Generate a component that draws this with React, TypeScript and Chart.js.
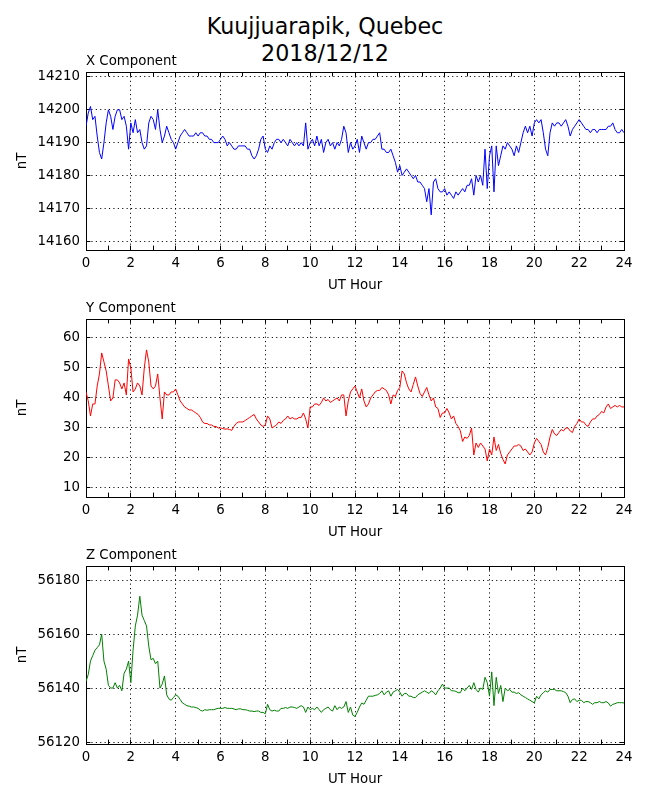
import { useEffect, useRef } from "react"
import { Chart, registerables } from "chart.js"

Chart.register(...registerables)

const FONT = "'DejaVu Sans', sans-serif"
Chart.defaults.font.family = FONT
Chart.defaults.font.size = 13.33
Chart.defaults.color = "#000"

// one sample every 6 minutes, 00:00 to 24:00 UT
const HOURS = Array.from({ length: 241 }, (_, i) => i / 10)

const X_NT = [
  14195, 14199, 14201, 14197, 14198, 14192, 14187, 14185, 14190, 14196,
  14200, 14198, 14194, 14198, 14200, 14200, 14197, 14198, 14195, 14188,
  14196, 14193, 14197, 14193, 14194, 14190, 14188, 14189, 14196, 14198,
  14197, 14194, 14200, 14194, 14190, 14192, 14195, 14193, 14191, 14190,
  14188, 14190, 14192, 14193, 14194, 14193, 14192, 14192, 14192, 14193,
  14192, 14193, 14193, 14192, 14192, 14191, 14191, 14190, 14190, 14190,
  14191, 14192, 14191, 14189, 14190, 14189, 14188, 14188, 14189, 14189,
  14189, 14189, 14188, 14188, 14186, 14185, 14186, 14188, 14191, 14192,
  14188, 14187, 14189, 14188, 14190, 14191, 14191, 14190, 14191, 14190,
  14189, 14191, 14190, 14189, 14190, 14189, 14190, 14189, 14196, 14188,
  14190, 14191, 14189, 14192, 14189, 14191, 14187, 14190, 14191, 14189,
  14190, 14188, 14190, 14189, 14191, 14195, 14193, 14187, 14190, 14188,
  14189, 14191, 14187, 14192, 14190, 14188, 14190, 14190, 14191, 14191,
  14192, 14193, 14188, 14188, 14187, 14187, 14188, 14186, 14184, 14181,
  14183, 14180, 14181, 14182, 14181, 14180, 14179, 14180, 14178, 14178,
  14177, 14176, 14172, 14176, 14168, 14178, 14179, 14176, 14175, 14175,
  14176, 14174, 14175, 14174, 14173, 14175, 14174, 14175, 14176, 14175,
  14177, 14177, 14179, 14174, 14180, 14178, 14180, 14177, 14188, 14176,
  14186, 14189, 14175, 14189, 14183, 14186, 14189, 14188, 14190, 14189,
  14188, 14186, 14189, 14187, 14190, 14193, 14195, 14193, 14195, 14192,
  14196, 14197, 14196, 14197, 14193, 14188, 14186, 14193, 14196, 14195,
  14196, 14196, 14195, 14196, 14197, 14195, 14192, 14194, 14195, 14196,
  14197, 14196, 14195, 14194, 14194, 14193, 14194, 14194, 14193, 14194,
  14194, 14194, 14194, 14195, 14195, 14196, 14194, 14193, 14193, 14194,
  14193,
]

const Y_NT = [
  42, 39, 34, 38, 38, 44, 48, 55, 52, 49,
  44, 39, 40, 46, 46, 45, 43, 45, 41, 53,
  50, 42, 43, 45, 44, 41, 50, 56, 52, 44,
  43, 44, 48, 40, 33, 42, 41, 41, 42, 42,
  43, 41, 39, 38, 37, 36.5, 36, 36, 35.5, 35,
  34.5, 33.5, 32, 31.5, 31.5, 31, 31, 30.5, 30.5, 30,
  30, 29.8, 29.6, 29.7, 29.5, 29.2, 30.5, 31.5, 32, 32,
  32, 32.5, 33, 33.5, 34, 34.5, 33, 32, 31, 30.5,
  31, 34, 33, 30, 30.5, 31, 32, 31.5, 32.5, 33,
  34, 33, 33.5, 33, 33, 33.5, 33.5, 35, 33, 30,
  37, 37, 38, 38, 37.5, 38.5, 40, 39, 39.5, 38.5,
  39, 39.5, 40, 39, 41, 41, 34, 39, 42, 43,
  44, 42, 40, 43, 39, 37, 38, 40, 41, 42,
  42.5, 42.5, 43.5, 43, 42.5, 41, 38, 41, 40.5, 42.5,
  43.5, 49, 48, 45, 43, 42, 44.5, 47, 44, 41.5,
  40.5, 42, 43.5, 41, 39, 40, 37, 36.5, 33.5, 35,
  35, 36.5, 35, 33, 34, 31.5, 30.5, 29, 25.5, 27,
  26.5, 27.5, 30, 21, 25, 23.5, 25, 24, 23, 19,
  23, 21, 27, 22.5, 24.5, 21.5, 19.5, 18, 21, 22,
  23, 24, 24, 24.5, 24, 22.5, 23, 22, 21, 22,
  25, 26.5, 25.5, 24.5, 22, 21, 23.5, 27, 29.5, 28,
  27.5, 28.5, 29.5, 29, 30, 30, 29, 28.5, 30.5, 31.5,
  33, 32, 32, 31, 30.5, 32, 33, 33, 34, 34.5,
  35.5, 35, 37, 38, 36.5, 37, 37.5, 37, 37.5, 37,
  37,
]

const Z_NT = [
  56142.5, 56145, 56150, 56152, 56154, 56155, 56156, 56160, 56150, 56147,
  56141, 56140, 56140, 56142, 56140, 56141, 56139, 56145.5, 56147, 56150,
  56142, 56154, 56163, 56167, 56174, 56167, 56165, 56163, 56155.5, 56150.5,
  56151, 56149, 56150, 56140, 56141.5, 56144.5, 56137.5, 56136, 56135.5, 56136.5,
  56137.5, 56137, 56135.8, 56134.5, 56134, 56133.5, 56133.3, 56133, 56133, 56132.8,
  56132.5, 56131.8, 56131.5, 56132, 56131.8, 56132, 56132, 56132, 56132.3, 56132.5,
  56132.5, 56132.5, 56132.8, 56132.5, 56132.5, 56132.5, 56132.3, 56132, 56132.3, 56132.3,
  56132, 56132, 56131.8, 56131.5, 56131.5, 56131.3, 56131.5, 56131.5, 56131, 56131,
  56130.5, 56134, 56132, 56131.5, 56131.8, 56131.5, 56131.5, 56132.5, 56132.5, 56132.8,
  56132.5, 56133, 56133, 56132.8, 56132.5, 56133, 56133.5, 56133, 56131, 56133,
  56132, 56132.5, 56132, 56133, 56132, 56131, 56132, 56132.5, 56133, 56132,
  56131.5, 56133.5, 56132, 56133, 56132.5, 56133, 56135, 56131, 56133, 56130,
  56129.5, 56131, 56133, 56134.5, 56134, 56135.5, 56137, 56137, 56137, 56137.3,
  56137.5, 56138, 56139, 56137.5, 56138.5, 56139, 56137, 56138.5, 56139, 56139.5,
  56138.5, 56137, 56138, 56138, 56137, 56137, 56136.5, 56136.5, 56137.5, 56138,
  56138.5, 56139, 56138.5, 56138, 56139, 56138.5, 56137.5, 56139, 56140, 56141.5,
  56140, 56140, 56140, 56139, 56139, 56138.8, 56138.3, 56138.3, 56140, 56139,
  56140, 56141, 56139.5, 56142, 56139.5, 56138.5, 56140, 56139.5, 56144, 56142,
  56137, 56146, 56133.5, 56144, 56138, 56141, 56135, 56140, 56139, 56139.5,
  56138.5, 56138.5, 56138, 56138.3, 56137.5, 56137, 56136.5, 56136, 56135.5, 56135,
  56134.5, 56137, 56136, 56137.5, 56138.3, 56139, 56138.5, 56139.5, 56139.5, 56139.5,
  56139, 56139, 56139, 56138.7, 56138.3, 56137, 56134.6, 56135.8, 56136, 56135,
  56135.5, 56135.5, 56134.6, 56135, 56135, 56134.6, 56134, 56134.6, 56134.6, 56135,
  56134.6, 56134.6, 56135, 56134.5, 56133.3, 56134, 56134.2, 56134.6, 56134.6, 56134.6,
  56134.5,
]

const PANELS = [
  { title: "X Component", values: X_NT, color: "#0000ff", min: 14157.3, max: 14211.5, step: 10, top: 42 },
  { title: "Y Component", values: Y_NT, color: "#ff0000", min: 7, max: 66.3, step: 10, top: 289 },
  { title: "Z Component", values: Z_NT, color: "#008000", min: 56119.3, max: 56185.2, step: 20, top: 536 },
]

const TICK_IN = -4.4
const DOTS = [1.1, 3.3]

function Panel({ title, values, color, min, max, step, top }: any) {
  const canvasRef = useRef<HTMLCanvasElement>(null)
  const chartRef = useRef<Chart | null>(null)

  useEffect(() => {
    if (!canvasRef.current) return
    if (chartRef.current) chartRef.current.destroy()

    const frame = { display: true, color: "#000", width: 1 }
    const titleFont = { family: FONT, size: 13.33, lineHeight: 1.2 }

    chartRef.current = new Chart(canvasRef.current, {
      type: "line",
      data: {
        datasets: [
          {
            data: HOURS.map((h, i) => ({ x: h, y: values[i] })),
            borderColor: color,
            borderWidth: 1,
            pointRadius: 0,
            tension: 0,
            xAxisID: "x",
            yAxisID: "y",
          },
        ],
      },
      options: {
        responsive: false,
        animation: false,
        events: [],
        layout: { padding: 0 },
        plugins: { legend: { display: false }, tooltip: { enabled: false } },
        scales: {
          x: {
            type: "linear",
            position: "bottom",
            min: 0,
            max: 24,
            afterFit: (s: any) => { s.height = 45 },
            ticks: {
              stepSize: 1,
              autoSkip: false,
              maxRotation: 0,
              padding: 10.4,
              callback: (v: any) => (v % 2 === 0 ? String(v) : ""),
            },
            grid: {
              color: (c: any) => (c.tick && c.tick.value % 2 === 0 ? "#000" : "rgba(0,0,0,0)"),
              lineWidth: 1,
              tickLength: TICK_IN,
              tickColor: "#000",
              tickWidth: 1,
            },
            border: { ...frame, dash: DOTS },
            title: { display: true, text: "UT Hour", font: titleFont, padding: { top: 0, bottom: 1 } },
          },
          x2: {
            type: "linear",
            position: "top",
            min: 0,
            max: 24,
            afterFit: (s: any) => { s.height = 30 },
            ticks: { stepSize: 1, autoSkip: false, maxRotation: 0, callback: () => "" },
            grid: { drawOnChartArea: false, tickLength: TICK_IN, tickColor: "#000", tickWidth: 1 },
            border: frame,
            title: { display: true, text: title, align: "start", font: titleFont, padding: { top: 12, bottom: 0 } },
          },
          y: {
            type: "linear",
            position: "left",
            min,
            max,
            afterFit: (s: any) => { s.width = 86 },
            ticks: { stepSize: step, includeBounds: false, padding: 10.4, callback: (v: any) => String(v) },
            grid: { color: "#000", lineWidth: 1, tickLength: TICK_IN, tickColor: "#000", tickWidth: 1 },
            border: { ...frame, dash: DOTS },
            title: { display: true, text: "nT", font: titleFont, padding: { top: 15, bottom: 0 } },
          },
          y2: {
            type: "linear",
            position: "right",
            min,
            max,
            afterFit: (s: any) => { s.width = 26 },
            ticks: { stepSize: step, includeBounds: false, callback: () => "" },
            grid: { drawOnChartArea: false, tickLength: TICK_IN, tickColor: "#000", tickWidth: 1 },
            border: frame,
          },
        },
      },
    } as any)

    return () => {
      if (chartRef.current) {
        chartRef.current.destroy()
        chartRef.current = null
      }
    }
  }, [title, values, color, min, max, step])

  return (
    <canvas
      ref={canvasRef}
      width={650}
      height={253}
      style={{ position: "absolute", left: 0, top, width: 650, height: 253 }}
    />
  )
}

export default function App() {
  return (
    <div style={{ position: "absolute", left: 0, top: 0, width: 650, height: 800, background: "#fff" }}>
      <div
        style={{
          position: "absolute",
          left: 0,
          top: 12.8,
          width: 650,
          textAlign: "center",
          fontFamily: FONT,
          fontSize: 22.2,
          lineHeight: "27px",
          color: "#000",
        }}
      >
        Kuujjuarapik, Quebec
        <br />
        2018/12/12
      </div>
      {PANELS.map((p) => (
        <Panel key={p.title} {...p} />
      ))}
    </div>
  )
}
